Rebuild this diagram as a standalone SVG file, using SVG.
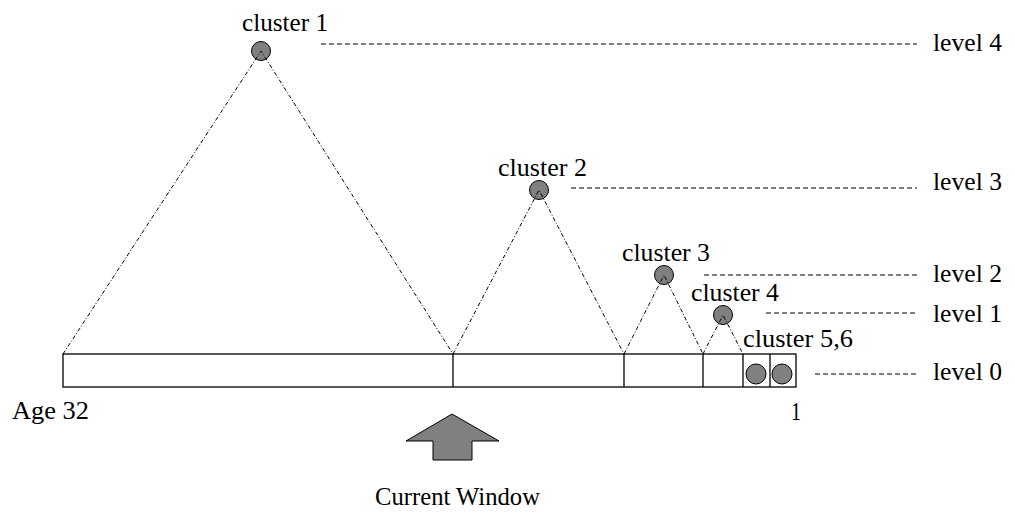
<svg xmlns="http://www.w3.org/2000/svg" width="1015" height="516" viewBox="0 0 1015 516">
<style>
text{font-family:"Liberation Serif","Times New Roman",serif;font-size:25px;fill:#000}
.node{fill:#808080;stroke:#000;stroke-width:1}
.tri{fill:none;stroke:#000;stroke-width:1;stroke-dasharray:4 2 1 2}
.lvl{fill:none;stroke:#000;stroke-width:1;stroke-dasharray:5 3}
.bar{fill:#fff;stroke:#000;stroke-width:1.3}
</style>
<rect width="1015" height="516" fill="#fff"/>
<g id="bar">
<rect class="bar" x="63" y="354" width="733" height="33"/>
<line x1="453" y1="354" x2="453" y2="387" stroke="#000" stroke-width="1.3"/>
<line x1="624" y1="354" x2="624" y2="387" stroke="#000" stroke-width="1.3"/>
<line x1="703" y1="354" x2="703" y2="387" stroke="#000" stroke-width="1.3"/>
<line x1="743" y1="354" x2="743" y2="387" stroke="#000" stroke-width="1.3"/>
<line x1="770" y1="354" x2="770" y2="387" stroke="#000" stroke-width="1.3"/>
</g>
<g id="cluster1"><circle class="node" cx="261" cy="51" r="9.5"/><text x="242" y="31" textLength="86" lengthAdjust="spacingAndGlyphs">cluster 1</text></g>
<g id="cluster2"><circle class="node" cx="539" cy="190" r="9.5"/><text x="498" y="176" textLength="89" lengthAdjust="spacingAndGlyphs">cluster 2</text></g>
<g id="cluster3"><circle class="node" cx="664" cy="275" r="9.5"/><text x="622" y="261" textLength="88" lengthAdjust="spacingAndGlyphs">cluster 3</text></g>
<g id="cluster4"><circle class="node" cx="723" cy="315" r="9.5"/><text x="691" y="301" textLength="88" lengthAdjust="spacingAndGlyphs">cluster 4</text></g>
<g id="cluster56"><circle class="node" cx="756" cy="374" r="10"/><circle class="node" cx="782" cy="374" r="10"/><text x="743" y="347" textLength="110" lengthAdjust="spacingAndGlyphs">cluster 5,6</text></g>
<g id="connectors">
<polyline class="tri" points="63,354 261,51 453,354"/>
<polyline class="tri" points="453,354 539,190 624,354"/>
<polyline class="tri" points="624,354 664,275 703,354"/>
<polyline class="tri" points="703,354 723,315 743,354"/>
<line class="lvl" x1="321" y1="44" x2="917" y2="44"/>
<line class="lvl" x1="571" y1="188" x2="917" y2="188"/>
<line class="lvl" x1="704" y1="275" x2="917" y2="275"/>
<line class="lvl" x1="766" y1="313" x2="917" y2="313"/>
<line class="lvl" x1="815" y1="374" x2="917" y2="374"/>
</g>
<g id="levels">
<text x="933" y="51" textLength="69" lengthAdjust="spacingAndGlyphs">level 4</text>
<text x="933" y="190" textLength="69" lengthAdjust="spacingAndGlyphs">level 3</text>
<text x="933" y="282" textLength="69" lengthAdjust="spacingAndGlyphs">level 2</text>
<text x="933" y="322" textLength="69" lengthAdjust="spacingAndGlyphs">level 1</text>
<text x="933" y="380" textLength="69" lengthAdjust="spacingAndGlyphs">level 0</text>
</g>
<g id="axis">
<text x="12" y="419" textLength="77" lengthAdjust="spacingAndGlyphs">Age 32</text>
<text x="791" y="420" textLength="10" lengthAdjust="spacingAndGlyphs">1</text>
</g>
<g id="window">
<polygon points="452,414 406,441 433,441 433,460 472,460 472,441 499,441" fill="#808080" stroke="#000" stroke-width="1"/>
<text x="375" y="505" textLength="165" lengthAdjust="spacingAndGlyphs">Current Window</text>
</g>
</svg>
